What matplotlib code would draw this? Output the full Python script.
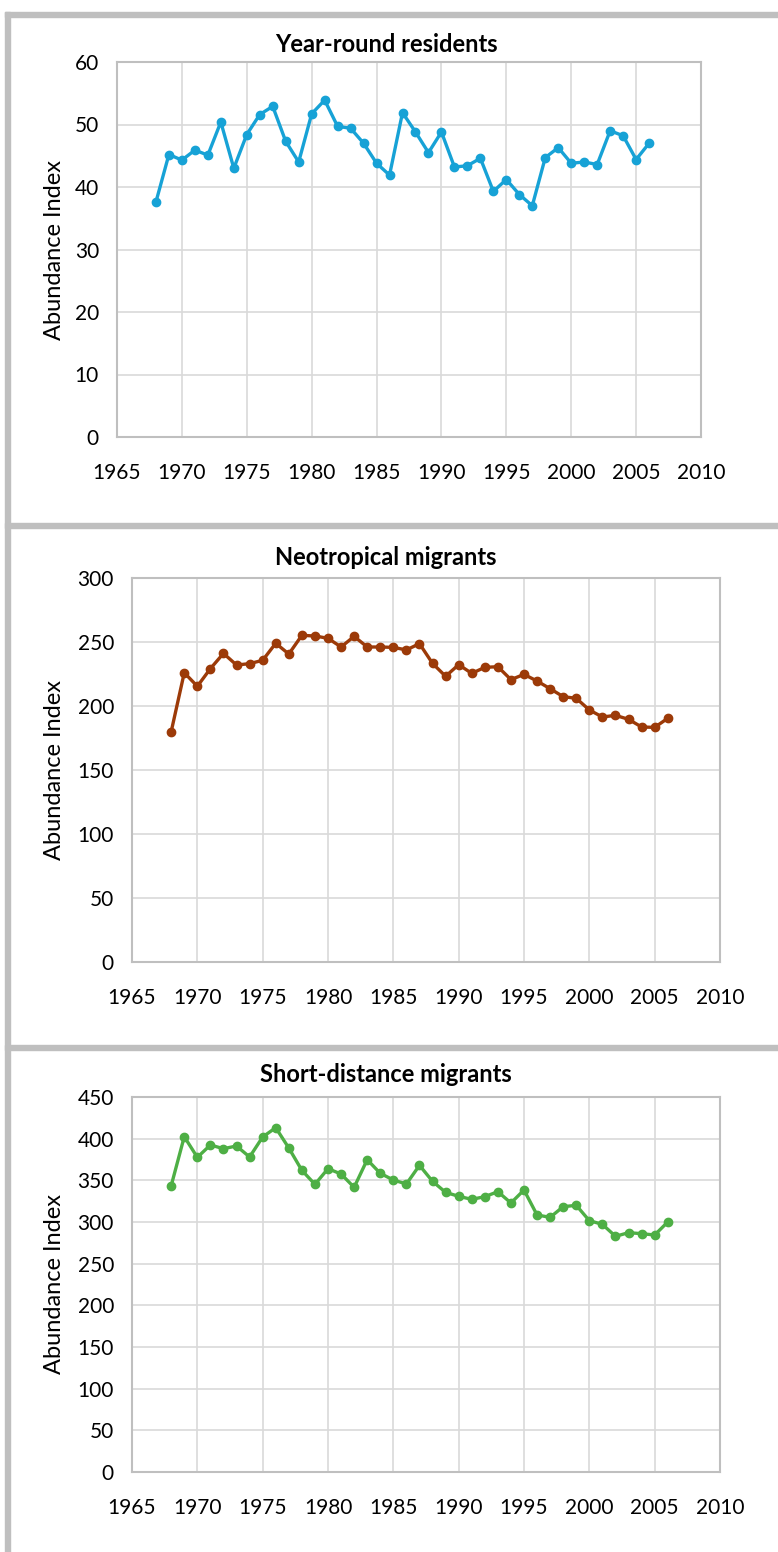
import matplotlib
matplotlib.use("Agg")
import matplotlib.pyplot as plt
from matplotlib.patches import Rectangle

plt.rcParams['font.family'] = ['Lato', 'DejaVu Sans']

years = list(range(1968, 2007))

residents = [37.6, 45.2, 44.3, 45.9, 45.1, 50.4, 43.0, 48.4, 51.6, 52.9,
             47.3, 44.0, 51.7, 53.9, 49.7, 49.4, 47.0, 43.8, 41.9, 51.9,
             48.8, 45.5, 48.8, 43.2, 43.4, 44.6, 39.3, 41.2, 38.8, 37.0,
             44.7, 46.3, 43.8, 44.0, 43.6, 49.0, 48.2, 44.4, 47.0]

neotropical = [180, 226, 215.4, 229.2, 241.1, 232.0, 233.1, 235.7, 249.0, 240.6,
               255.2, 254.7, 252.9, 246.1, 254.4, 246.1, 246.1, 245.8, 243.8, 248.7,
               233.3, 223.2, 232.3, 225.5, 230.2, 230.7, 220.6, 224.7, 219.5, 213.5,
               207.3, 206.0, 196.9, 191.4, 192.7, 189.6, 183.6, 183.3, 190.4]

short_distance = [343.6, 402.4, 377.6, 392.4, 388.0, 391.2, 378.0, 402.0, 413.2, 388.8,
                  362.0, 345.2, 364.0, 357.6, 341.6, 374.8, 358.4, 350.4, 345.6, 368.0,
                  348.8, 335.6, 330.8, 327.2, 330.4, 336.4, 322.8, 338.4, 308.4, 305.6,
                  318.4, 320.0, 301.6, 297.2, 282.8, 287.2, 286.0, 284.4, 300.0]

x_ticks = [1965, 1970, 1975, 1980, 1985, 1990, 1995, 2000, 2005, 2010]

W, H = 778, 1552
fig = plt.figure(figsize=(W / 100, H / 100), dpi=100)

frame = '#BFBFBF'
# outer gray frame: left bar plus separators between the panels
fig.patches.append(Rectangle((5 / W, 0), 5 / W, 1 - 12 / H, transform=fig.transFigure,
                             color=frame, zorder=0))
for ytop in [12, 523, 1045]:
    fig.patches.append(Rectangle((5 / W, 1 - (ytop + 5) / H), 1, 5 / H,
                                 transform=fig.transFigure, color=frame, zorder=0))

panels = [
    ("Year-round residents", residents, '#17A2D6', [0, 10, 20, 30, 40, 50, 60],
     (117, 62, 701, 437), 45),
    ("Neotropical migrants", neotropical, '#9C3A08', [0, 50, 100, 150, 200, 250, 300],
     (132, 578, 720, 962), 557),
    ("Short-distance migrants", short_distance, '#4EAF45',
     [0, 50, 100, 150, 200, 250, 300, 350, 400, 450],
     (132, 1097, 720, 1472), 1075),
]

for title, vals, color, yt, (x0, y0, x1, y1), ty in panels:
    ax = fig.add_axes([x0 / W, 1 - y1 / H, (x1 - x0) / W, (y1 - y0) / H])
    ax.plot(years, vals, color=color, lw=2.4, marker='o', ms=6, zorder=3)
    ax.set_xlim(1965, 2010)
    ax.set_ylim(yt[0], yt[-1])
    ax.set_xticks(x_ticks)
    ax.set_yticks(yt)
    ax.grid(True, color='#D9D9D9', lw=1.2)
    ax.set_axisbelow(True)
    for s in ax.spines.values():
        s.set_color('#BFBFBF')
        s.set_linewidth(1.5)
    ax.tick_params(length=0, labelsize=15, colors='black')
    ax.tick_params(axis='y', pad=13)
    ax.tick_params(axis='x', pad=19)
    ax.set_ylabel("Abundance Index", fontsize=17, va='center')
    ax.yaxis.set_label_coords((55 - x0) / (x1 - x0), 0.5)
    fig.text(386 / W, 1 - ty / H, title, ha='center', va='center',
             fontsize=17, fontweight='bold')

fig.savefig("out.png", dpi=100, facecolor='white')
